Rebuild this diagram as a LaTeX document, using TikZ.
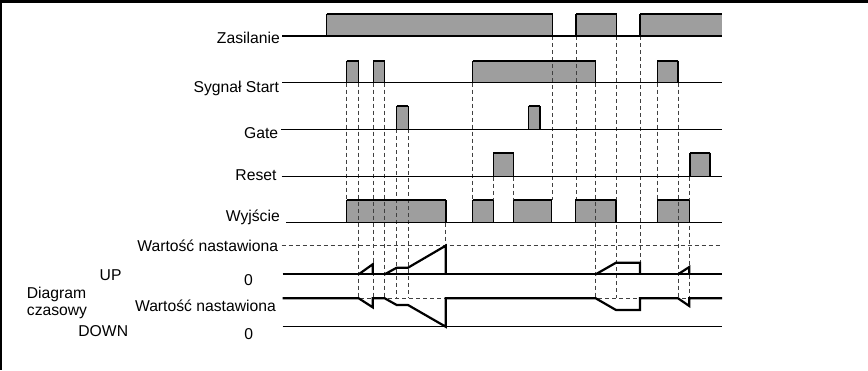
\documentclass[tikz,border=0pt]{standalone}
\usepackage{fontspec}
\setmainfont{Liberation Sans}
\begin{document}
\begin{tikzpicture}[x=1pt,y=-1pt,
  lbl/.style={anchor=base east,inner sep=0pt,font=\fontsize{15.7}{18}\selectfont},
  lblw/.style={anchor=base west,inner sep=0pt,font=\fontsize{15.7}{18}\selectfont},
  sig/.style={line width=1.1pt},
  hifill/.style={fill=black!38},
  hitop/.style={line width=2.2pt},
  guide/.style={black!75,line width=0.8pt,dash pattern=on 4pt off 3pt},
  wave/.style={line width=2.2pt,line join=miter}]
\useasboundingbox (0,0) rectangle (868,370);
% frame
\draw[line width=3pt] (0,1.5) -- (868,1.5);
\draw[line width=2pt] (1,0) -- (1,370);
% labels
\node[lbl] (zas) at (280,43) {Zasilanie};
\node[lbl] (start) at (279.3,92) {Sygnał Start};
\node[lbl] (gate) at (278.3,138) {Gate};
\node[lbl] (reset) at (276.7,180.6) {Reset};
\node[lbl] (wyj) at (280,221.4) {Wyjście};
\node[lbl] (set1) at (278.3,251.8) {Wartość nastawiona};
\node[lbl] (up) at (121.7,280) {UP};
\node[lbl] (zero1) at (253,285) {0};
\node[lblw] (diag) at (26.7,298.3) {Diagram};
\node[lbl] (set2) at (276,311.4) {Wartość nastawiona};
\node[lblw] (czas) at (26.7,315.5) {czasowy};
\node[lbl] (down) at (128.3,336) {DOWN};
\node[lbl] (zero2) at (253.3,339.8) {0};
% fills
\foreach \a/\b in {326.7/552.7,576/616.7,640/721.7}
  \fill[hifill] (\a,14) rectangle (\b,36);
\foreach \a/\b in {346.7/358.7,373.3/384.7,472.7/595.7,657.3/678}
  \fill[hifill] (\a,60.7) rectangle (\b,82.7);
\foreach \a/\b in {396.7/408.3,528.7/540}
  \fill[hifill] (\a,106) rectangle (\b,129.3);
\foreach \a/\b in {493.3/513.7,690/710}
  \fill[hifill] (\a,152.7) rectangle (\b,176.7);
\foreach \a/\b in {346.7/446,472.7/493.3,513.7/551.7,575.3/616,657.3/689.3}
  \fill[hifill] (\a,200) rectangle (\b,222.7);
% guides
\foreach \x/\t/\b in {346.7/82.7/200,358.7/82.7/298.3,373.3/82.7/298.3,
  384.7/82.7/298.3,396.7/129.3/298.3,408.3/129.3/298.3,445.7/222.7/245.7,
  472.7/82.7/200,493.3/176.7/200,513.7/176.7/200,552.7/36/200,576/36/200,
  595.7/82.7/298.3,616.7/36/298.3,640/36/262.7,657.3/82.7/200,
  678/82.7/298.3,689.3/176.7/298.3}
  \draw[guide] (\x,\t) -- (\x,\b);
\draw[guide] (281.7,245.7) -- (722,245.7);
\draw[guide] (283,298.3) -- (722,298.3);
% baselines
\draw[sig] (282,36) -- (722,36);
\draw[sig] (282,82.7) -- (722,82.7);
\draw[sig] (281,129.3) -- (722,129.3);
\draw[sig] (281.7,176.7) -- (722,176.7);
\draw[sig] (286,222.7) -- (722,222.7);
% pulse edges
\foreach \a/\b in {326.7/552.7,576/616.7} {
  \draw[sig] (\a,36) -- (\a,14) (\b,14) -- (\b,36);
  \draw[hitop] (\a,14) -- (\b,14);
}
\draw[sig] (640,36) -- (640,14);
\draw[hitop] (640,14) -- (721.7,14);
\foreach \a/\b in {346.7/358.7,373.3/384.7,472.7/595.7,657.3/678} {
  \draw[sig] (\a,82.7) -- (\a,60.7) (\b,60.7) -- (\b,82.7);
  \draw[hitop] (\a,60.7) -- (\b,60.7);
}
\foreach \a/\b in {396.7/408.3,528.7/540} {
  \draw[sig] (\a,129.3) -- (\a,106) (\b,106) -- (\b,129.3);
  \draw[hitop] (\a,106) -- (\b,106);
}
\foreach \a/\b in {493.3/513.7,690/710} {
  \draw[sig] (\a,176.7) -- (\a,152.7) (\b,152.7) -- (\b,176.7);
  \draw[hitop] (\a,152.7) -- (\b,152.7);
}
\foreach \a/\b in {346.7/446,472.7/493.3,513.7/551.7,575.3/616,657.3/689.3} {
  \draw[sig] (\a,222.7) -- (\a,200) (\b,200) -- (\b,222.7);
  \draw[hitop] (\a,200) -- (\b,200);
}
% counter UP
\draw[wave] (282.7,274.3) -- (722,274.3);
\draw[wave] (358.7,274.3) -- (372.7,264.3) -- (372.7,274.3);
\draw[wave] (384.7,274.3) -- (396.7,267.7) -- (408,267.7) -- (445.7,245.7) -- (445.7,274.3);
\draw[wave] (595.7,274.3) -- (616,262.7) -- (640,262.7) -- (640,274.3);
\draw[wave] (678,274.3) -- (689.3,267) -- (689.3,274.3);
% counter DOWN
\draw[wave] (282.7,298.3) -- (358.7,298.3) -- (372.7,307.3) -- (372.7,298.3)
  -- (384.7,298.3) -- (396.7,305) -- (408,305) -- (445.7,326.7) -- (445.7,298.3)
  -- (595.7,298.3) -- (616,310) -- (640,310) -- (640,298.3)
  -- (678,298.3) -- (689.3,306) -- (689.3,298.3) -- (722,298.3);
\draw[sig] (282.7,326.7) -- (722,326.7);
\end{tikzpicture}
\end{document}
